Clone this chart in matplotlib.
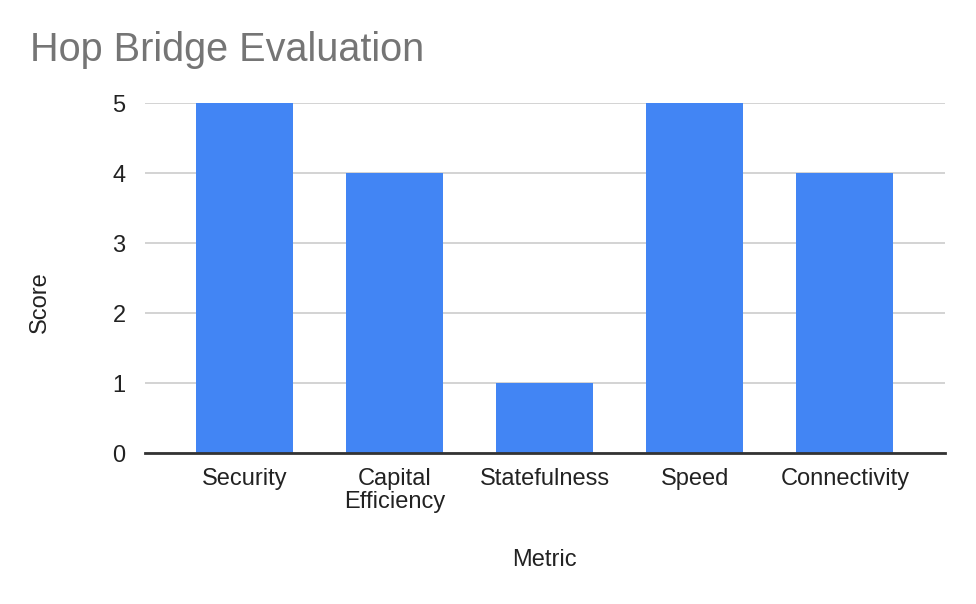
import numpy as np
import matplotlib.pyplot as plt

# data
metrics = ['Security', 'Capital\nEfficiency', 'Statefulness', 'Speed', 'Connectivity']
scores = [5, 4, 1, 5, 4]

plt.rcParams['font.family'] = ['Liberation Sans', 'DejaVu Sans']

fig = plt.figure(figsize=(9.76, 6.04), dpi=100)
ax = fig.add_axes([145/976, 1 - 453/604, 800/976, 350/604])

x = np.arange(len(metrics))
ax.bar(x, scores, width=0.647, color='#4285f4', zorder=3)

ax.set_xlim(-0.662, 4.667)
ax.set_ylim(0, 5)
ax.set_yticks(range(6))
ax.yaxis.grid(True, color='#cccccc', linewidth=1.2, zorder=0)
ax.set_xticks(x)
ax.set_xticklabels(metrics, fontsize=17, color='#222222', linespacing=1.07)
ax.tick_params(axis='y', labelsize=17, labelcolor='#222222', length=0, pad=14)
ax.tick_params(axis='x', length=0, pad=11)

for s in ['top', 'right', 'left']:
    ax.spines[s].set_visible(False)
ax.spines['bottom'].set_color('#333333')
ax.spines['bottom'].set_linewidth(2)
ax.spines['bottom'].set_zorder(4)

fig.text(30/976, 1 - 50/604, 'Hop Bridge Evaluation', fontsize=28.5, color='#757575',
         va='center', ha='left')
fig.text(40/976, 1 - 302/604, 'Score', fontsize=17, color='#222222',
         rotation=90, va='center', ha='center')
fig.text(544/976, 1 - 560/604, 'Metric', fontsize=17, color='#222222',
         va='center', ha='center')

plt.savefig('out.png', dpi=100)
